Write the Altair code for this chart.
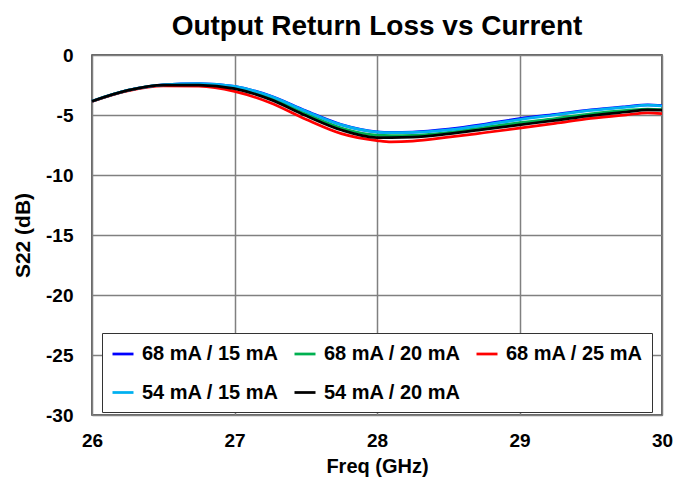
import altair as alt
import pandas as pd

freq = [26.0, 26.25, 26.5, 26.75, 27.0, 27.25, 27.5, 27.75, 28.0, 28.1, 28.25,
        28.5, 28.75, 29.0, 29.25, 29.5, 29.75, 29.9, 30.0]

s_68_15 = [-3.85, -2.95, -2.48, -2.38, -2.62, -3.40, -4.65, -5.80, -6.40, -6.45, -6.42,
           -6.18, -5.78, -5.30, -4.95, -4.58, -4.30, -4.15, -4.22]
s_68_20 = [-3.85, -2.95, -2.50, -2.45, -2.72, -3.58, -4.90, -6.08, -6.68, -6.72, -6.70,
           -6.45, -6.05, -5.64, -5.30, -4.90, -4.62, -4.50, -4.55]
s_68_25 = [-3.87, -3.00, -2.58, -2.60, -3.03, -3.98, -5.35, -6.55, -7.13, -7.24, -7.18,
           -6.85, -6.48, -6.10, -5.70, -5.28, -4.98, -4.82, -4.88]
s_54_15 = [-3.85, -2.95, -2.48, -2.38, -2.62, -3.42, -4.68, -5.82, -6.42, -6.47, -6.45,
           -6.24, -5.84, -5.38, -5.00, -4.62, -4.35, -4.18, -4.25]
s_54_20 = [-3.85, -2.95, -2.50, -2.50, -2.80, -3.70, -5.05, -6.25, -6.88, -6.88, -6.85,
           -6.58, -6.20, -5.82, -5.45, -5.05, -4.75, -4.58, -4.60]

# drawing order (bottom to top)
series_names = ["68 mA / 15 mA", "68 mA / 20 mA", "68 mA / 25 mA",
                "54 mA / 15 mA", "54 mA / 20 mA"]
series_vals = [s_68_15, s_68_20, s_68_25, s_54_15, s_54_20]

# legend order (legend fills column by column, 2 rows x 3 columns)
legend_order = ["68 mA / 15 mA", "54 mA / 15 mA", "68 mA / 20 mA",
                "54 mA / 20 mA", "68 mA / 25 mA"]
legend_colors = ["#0000FF", "#00B0F0", "#00B050", "#000000", "#FF0000"]

x_ticks = [26, 27, 28, 29, 30]
y_ticks = [0, -5, -10, -15, -20, -25, -30]

rows = []
for i, (name, vals) in enumerate(zip(series_names, series_vals)):
    for f, v in zip(freq, vals):
        rows.append({"freq": f, "s22": v, "series": name, "order": i})
df = pd.DataFrame(rows)

FONT = "Liberation Sans"

chart = alt.Chart(df).mark_line(strokeWidth=2.75, interpolate="monotone").encode(
    x=alt.X("freq:Q", title="Freq (GHz)",
            scale=alt.Scale(domain=[26, 30], nice=False),
            axis=alt.Axis(values=x_ticks, labelExpr="'' + datum.value",
                          labelFlush=False, labelPadding=16,
                          titlePadding=6, tickSize=0, titleFontSize=20)),
    y=alt.Y("s22:Q", title="S22 (dB)",
            scale=alt.Scale(domain=[-30, 0], nice=False),
            axis=alt.Axis(values=y_ticks, labelExpr="'' + datum.value",
                          labelFlush=False, labelPadding=19, titlePadding=12,
                          tickSize=0, titleFontSize=21)),
    color=alt.Color("series:N", sort=legend_order,
                    scale=alt.Scale(domain=legend_order, range=legend_colors),
                    legend=alt.Legend(title=None, orient="none", legendX=10, legendY=278,
                                      columns=3, columnPadding=10, rowPadding=16.5,
                                      symbolType="stroke", symbolSize=441,
                                      symbolStrokeWidth=2.75, labelOffset=7,
                                      labelFont=FONT, labelFontSize=20,
                                      labelFontWeight="bold", labelColor="black",
                                      strokeColor="#333333", fillColor="white",
                                      padding=9)),
    detail="order:O",
    order="order:O",
).properties(
    width=570, height=360,
    title=alt.TitleParams("Output Return Loss vs Current", font=FONT, fontSize=28,
                          fontWeight="bold", color="black", offset=5),
    autosize=alt.AutoSizeParams(type="none"),
    padding={"left": 84, "top": 47, "right": 22, "bottom": 62},
).configure_axis(
    labelFont=FONT, labelFontSize=19, labelFontWeight="bold", labelColor="black",
    titleFont=FONT, titleFontWeight="bold", titleColor="black",
    gridColor="#808080", gridWidth=1.5, gridOpacity=1,
    domain=False,
).configure_view(
    stroke="#333333", strokeWidth=1.5,
)

chart.save("out.html", embed_options={"renderer": "svg", "actions": False})
